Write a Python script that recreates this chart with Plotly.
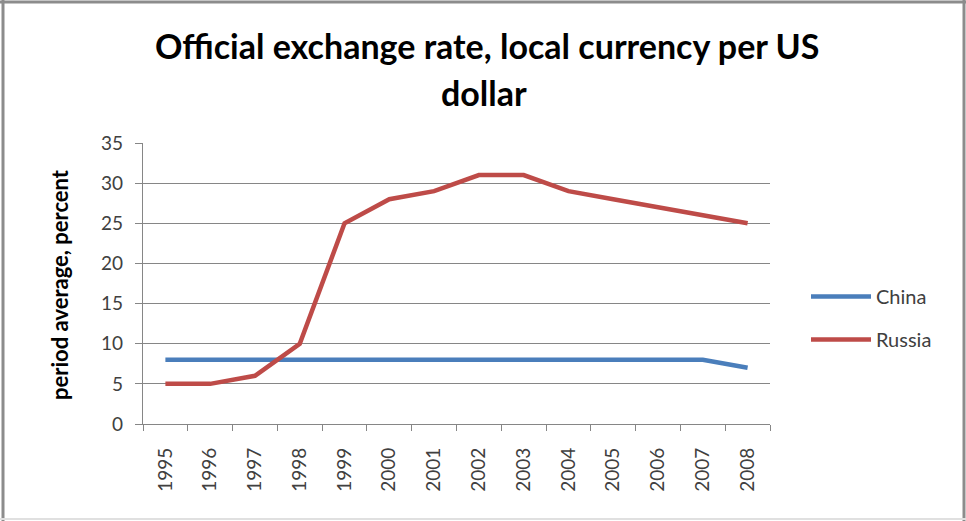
import plotly.graph_objects as go

# Annual data, 1995-2008
years = ["1995", "1996", "1997", "1998", "1999", "2000", "2001",
         "2002", "2003", "2004", "2005", "2006", "2007", "2008"]
china = [8, 8, 8, 8, 8, 8, 8, 8, 8, 8, 8, 8, 8, 7]
russia = [5, 5, 6, 10, 25, 28, 29, 31, 31, 29, 28, 27, 26, 25]

W, H = 966, 521
ML, MR, MT, MB = 143, 196, 143, 97
PW, PH = W - ML - MR, H - MT - MB


def px_x(x):
    return (x - ML) / PW


def px_y(y):
    return 1 - (y - MT) / PH


FONT = "Lato"
TXT = "#404040"
AXIS = "#868686"

fig = go.Figure()
fig.add_trace(go.Scatter(x=years, y=china, mode="lines", name="China",
                         legendgroup="a",
                         line=dict(color="#4a7ebb", width=4.5)))
fig.add_trace(go.Scatter(x=years, y=russia, mode="lines", name="Russia",
                         legendgroup="b",
                         line=dict(color="#be4b48", width=4.5)))

fig.update_layout(
    width=W, height=H,
    margin=dict(l=ML, r=MR, t=MT, b=MB),
    paper_bgcolor="white", plot_bgcolor="white",
    showlegend=True,
    legend=dict(x=px_x(806), y=px_y(277), xanchor="left", yanchor="top",
                font=dict(family=FONT, size=20, color=TXT),
                traceorder="grouped", tracegroupgap=14, itemwidth=60,
                bgcolor="rgba(0,0,0,0)"),
    xaxis=dict(type="category", showgrid=False, showline=True,
               linecolor=AXIS, linewidth=1.3, ticks="outside",
               tickson="boundaries", ticklen=6, tickcolor=AXIS,
               tickangle=-90, range=[-0.5, 13.5], ticklabelstandoff=15,
               tickfont=dict(family=FONT, size=19, color=TXT)),
    yaxis=dict(range=[0, 35], dtick=5, showgrid=True, gridcolor=AXIS,
               gridwidth=1.3, showline=True, linecolor=AXIS,
               linewidth=1.3, ticks="outside", ticklen=7,
               tickcolor=AXIS, zeroline=False, ticklabelstandoff=8,
               tickfont=dict(family=FONT, size=19, color=TXT)),
    annotations=[
        dict(text="<b>Official exchange rate, local currency per US</b>",
             xref="paper", yref="paper", x=px_x(487), y=px_y(45),
             xanchor="center", yanchor="middle", showarrow=False,
             font=dict(family=FONT, size=34, color="black")),
        dict(text="<b>dollar</b>",
             xref="paper", yref="paper", x=px_x(484), y=px_y(92),
             xanchor="center", yanchor="middle", showarrow=False,
             font=dict(family=FONT, size=34, color="black")),
        dict(text="<b>period average, percent</b>", textangle=-90,
             xref="paper", yref="paper", x=px_x(59), y=px_y(285),
             xanchor="center", yanchor="middle", showarrow=False,
             font=dict(family=FONT, size=22, color="black")),
    ],
    shapes=[
        # outer frame of the chart area
        dict(type="line", xref="paper", yref="paper",
             x0=px_x(0), x1=px_x(W), y0=px_y(2), y1=px_y(2),
             line=dict(color="#8c8c8c", width=3)),
        dict(type="line", xref="paper", yref="paper",
             x0=px_x(3), x1=px_x(3), y0=px_y(0), y1=px_y(H),
             line=dict(color="#8c8c8c", width=3)),
        dict(type="line", xref="paper", yref="paper",
             x0=px_x(964), x1=px_x(964), y0=px_y(0), y1=px_y(H),
             line=dict(color="#8c8c8c", width=3)),
        dict(type="line", xref="paper", yref="paper",
             x0=px_x(0), x1=px_x(W), y0=px_y(519), y1=px_y(519),
             line=dict(color="#e0e0e0", width=2)),
    ],
)

fig.write_html("out.html")
